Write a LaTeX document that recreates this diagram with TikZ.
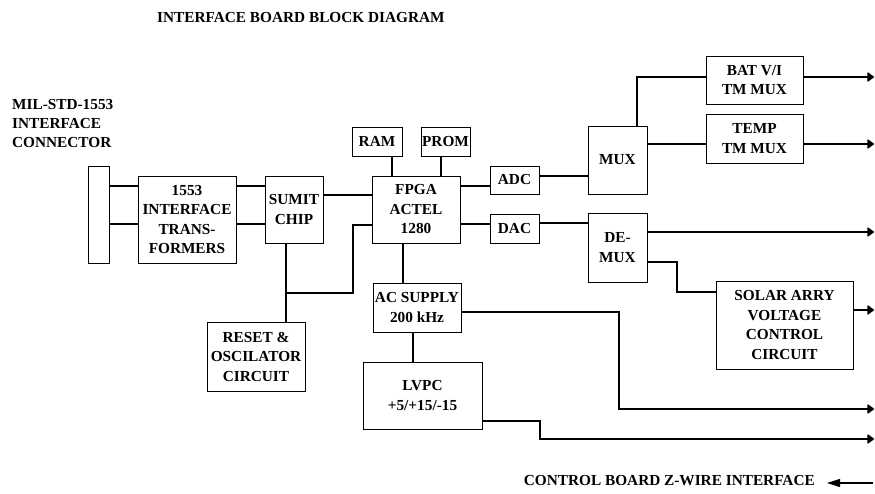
\documentclass[tikz,border=0pt]{standalone}
\usepackage{fontspec}
\setmainfont{Liberation Serif}
\usetikzlibrary{arrows.meta}
\tikzset{
  blk/.style={draw, line width=0.9pt, inner sep=0pt, align=center,
    font=\bfseries\fontsize{15.3}{19.5}\selectfont},
  wire/.style={line width=1.1pt},
  outarrow/.style={wire, -{Triangle[length=7pt,width=10pt,round]}},
  inarrow/.style={wire, -{Triangle[length=13pt,width=8pt]}},
  lbl/.style={inner sep=0pt, font=\bfseries\fontsize{15.3}{19.3}\selectfont}
}
\begin{document}
\begin{tikzpicture}[x=1pt,y=-1pt]
\useasboundingbox (0,0) rectangle (875,494);
% labels
\node[lbl, anchor=west] (title) at (157,18) {INTERFACE BOARD BLOCK DIAGRAM};
\node[lbl, anchor=north west, align=left] (connlbl) at (12,99) {MIL-STD-1553\\INTERFACE\\CONNECTOR};
\node[lbl, anchor=east] (ctrl) at (815,481) {CONTROL BOARD Z-WIRE INTERFACE};
% blocks
\node[blk, minimum width=21pt, minimum height=97pt] (conn) at (98.5,214.5) {};
\node[blk, minimum width=98pt, minimum height=87pt] (xfmr) at (187,219.5) {1553\\INTERFACE\\TRANS-\\FORMERS};
\node[blk, minimum width=58pt, minimum height=67pt] (sumit) at (294,209.5) {SUMIT\\CHIP};
\node[blk, minimum width=88pt, minimum height=67pt] (fpga) at (416,209.5) {FPGA\\ACTEL\\1280};
\node[blk, minimum width=50pt, minimum height=29pt] (ram) at (377,141.5) {RAM};
\node[blk, minimum width=49pt, minimum height=29pt] (prom) at (445.5,141.5) {PROM};
\node[blk, minimum width=49pt, minimum height=28pt] (adc) at (514.5,180) {ADC};
\node[blk, minimum width=49pt, minimum height=29pt] (dac) at (514.5,228.5) {DAC};
\node[blk, minimum width=59pt, minimum height=68pt] (mux) at (617.5,160) {MUX};
\node[blk, minimum width=97pt, minimum height=48pt] (bat) at (754.5,80) {BAT V/I\\TM MUX};
\node[blk, minimum width=97pt, minimum height=49pt] (temp) at (754.5,138.5) {TEMP\\TM MUX};
\node[blk, minimum width=59pt, minimum height=69pt] (demux) at (617.5,247.5) {DE-\\MUX};
\node[blk, minimum width=137pt, minimum height=88pt] (solar) at (784.5,325) {SOLAR ARRY\\VOLTAGE\\CONTROL\\CIRCUIT};
\node[blk, minimum width=88pt, minimum height=49pt] (acs) at (417,307.5) {AC SUPPLY\\200 kHz};
\node[blk, minimum width=119pt, minimum height=67pt] (lvpc) at (422.5,395.5) {LVPC\\+5/+15/-15};
\node[blk, minimum width=98pt, minimum height=69pt] (reset) at (256,356.5) {RESET \&\\OSCILATOR\\CIRCUIT};
% coordinates
\coordinate (j1) at (286,293);
\coordinate (j2) at (353,293);
\coordinate (o1) at (874,77);
\coordinate (o2) at (874,144);
\coordinate (o3) at (874,232);
\coordinate (o4) at (874,310);
\coordinate (o5) at (874,409);
\coordinate (o6) at (874,439);
\coordinate (ctrlend) at (873,483);
\coordinate (ctrltip) at (827,483);
% wires
\draw[wire] (conn.east|-0,186) -- (xfmr.west|-0,186);
\draw[wire] (conn.east|-0,224) -- (xfmr.west|-0,224);
\draw[wire] (xfmr.east|-0,186) -- (sumit.west|-0,186);
\draw[wire] (xfmr.east|-0,224) -- (sumit.west|-0,224);
\draw[wire] (sumit.east|-0,195) -- (fpga.west|-0,195);
\draw[wire] (fpga.west|-0,225) -| (j2) -- (j1);
\draw[wire] (sumit.south-|j1) -- (reset.north-|j1);
\draw[wire] (ram.south-|392,0) -- (fpga.north-|392,0);
\draw[wire] (prom.south-|441,0) -- (fpga.north-|441,0);
\draw[wire] (fpga.east|-0,186) -- (adc.west|-0,186);
\draw[wire] (fpga.east|-0,224) -- (dac.west|-0,224);
\draw[wire] (fpga.south-|403,0) -- (acs.north-|403,0);
\draw[wire] (acs.south-|413,0) -- (lvpc.north-|413,0);
\draw[wire] (adc.east|-0,176) -- (mux.west|-0,176);
\draw[wire] (mux.north-|637,0) |- (bat.west|-0,77);
\draw[wire] (mux.east|-0,144) -- (temp.west|-0,144);
\draw[wire] (dac.east|-0,223) -- (demux.west|-0,223);
\draw[wire] (demux.east|-0,262) -| (677,277) |- (solar.west|-0,292);
\draw[outarrow] (bat.east|-o1) -- (o1);
\draw[outarrow] (temp.east|-o2) -- (o2);
\draw[outarrow] (demux.east|-o3) -- (o3);
\draw[outarrow] (solar.east|-o4) -- (o4);
\draw[outarrow] (acs.east|-0,312) -| (619,360) |- (o5);
\draw[outarrow] (lvpc.east|-0,421) -| (540,430) |- (o6);
\draw[inarrow] (ctrlend) -- (ctrltip);
\end{tikzpicture}
\end{document}
